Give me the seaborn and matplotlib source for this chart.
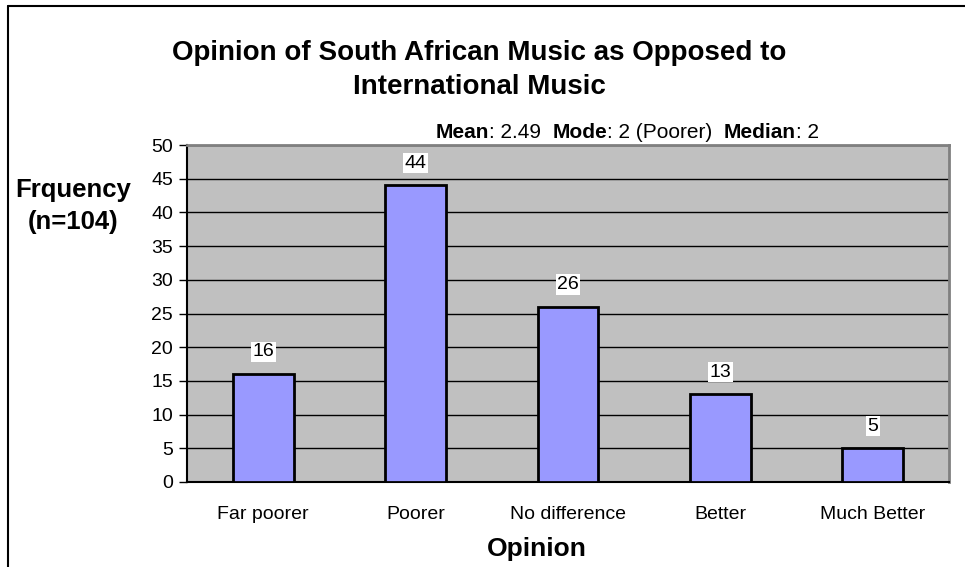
import matplotlib
matplotlib.use("Agg")
import matplotlib.pyplot as plt
from matplotlib.lines import Line2D
import seaborn as sns
import pandas as pd
import numpy as np

categories = ["Far poorer", "Poorer", "No difference", "Better", "Much Better"]
frequencies = [16, 44, 26, 13, 5]
y_ticks = [0, 5, 10, 15, 20, 25, 30, 35, 40, 45, 50]

sns.set_theme(style="white")
plt.rcParams["font.family"] = ["Liberation Sans", "DejaVu Sans"]
plt.rcParams["text.color"] = "black"
plt.rcParams["axes.labelcolor"] = "black"
plt.rcParams["xtick.color"] = "black"
plt.rcParams["ytick.color"] = "black"

df = pd.DataFrame({"Opinion": categories, "Frequency": frequencies})

fig = plt.figure(figsize=(9.65, 5.67), dpi=100)
ax = fig.add_axes([187 / 965, 1 - 482 / 567, (949 - 187) / 965, (482 - 145) / 567])
ax.set_facecolor("#C0C0C0")

sns.barplot(data=df, x="Opinion", y="Frequency", ax=ax, color="#9999FF",
            width=0.4, edgecolor="black", linewidth=2, saturation=1, zorder=3)

ax.set_ylim(0, 50)
ax.set_xlim(-0.5, len(categories) - 0.5)
ax.set_yticks(y_ticks)
ax.set_yticklabels([str(t) for t in y_ticks], fontsize=14)
ax.yaxis.grid(True, color="black", linewidth=1, zorder=1)
ax.set_axisbelow(True)

# category labels centred, tick marks on the boundaries between categories
ax.set_xticks(range(len(categories)))
ax.set_xticklabels(categories, fontsize=14)
ax.tick_params(axis="x", length=0, pad=17)
ax.set_xticks(np.arange(-0.5, len(categories), 1.0), minor=True)
ax.tick_params(axis="x", which="minor", length=6, width=1, color="black", direction="out")
ax.tick_params(axis="y", length=6, width=1, color="black", direction="out", pad=4,
               left=True)

for side in ["top", "right"]:
    ax.spines[side].set_color("#808080")
    ax.spines[side].set_linewidth(2)
ax.spines["left"].set_color("black")
ax.spines["bottom"].set_color("black")
ax.spines["left"].set_linewidth(1.5)
ax.spines["bottom"].set_linewidth(1.5)

for bar, val in zip(ax.patches, frequencies):
    x = bar.get_x() + bar.get_width() / 2
    ax.annotate(str(val), (x, val), xytext=(0, 16), textcoords="offset points",
                ha="center", va="center", fontsize=14,
                bbox=dict(boxstyle="square,pad=0.08", facecolor="white", edgecolor="none"))

ax.set_xlabel("")
ax.set_ylabel("")
fig.text(537 / 965, 1 - 549 / 567, "Opinion", ha="center", va="center",
         fontsize=19, fontweight="bold")
fig.text(73 / 965, 1 - 206 / 567, "Frquency\n(n=104)", ha="center", va="center",
         fontsize=18.5, fontweight="bold", linespacing=1.45)

fig.text(479 / 965, 1 - 70 / 567,
         "Opinion of South African Music as Opposed to\nInternational Music",
         ha="center", va="center", fontsize=20, fontweight="bold", linespacing=1.45)

# summary statistics line with bold labels, right end fixed
stats_parts = [("Mean", True), (": 2.49  ", False), ("Mode", True), (": 2 (Poorer)  ", False),
               ("Median", True), (": 2", False)]
renderer = fig.canvas.get_renderer()
x_px = 819
for txt, bold in reversed(stats_parts):
    t = fig.text(x_px / 965, 1 - 132 / 567, txt, ha="right", va="center", fontsize=15,
                 fontweight="bold" if bold else "normal")
    bb = t.get_window_extent(renderer=renderer)
    x_px -= bb.width

# outer chart frame (left and top edges)
fig.add_artist(Line2D([8 / 965, 8 / 965], [0, 1 - 6 / 567], transform=fig.transFigure,
                      color="black", linewidth=1.5))
fig.add_artist(Line2D([8 / 965, 1], [1 - 6 / 567, 1 - 6 / 567], transform=fig.transFigure,
                      color="black", linewidth=1.5))

fig.savefig("out.png", dpi=100)
